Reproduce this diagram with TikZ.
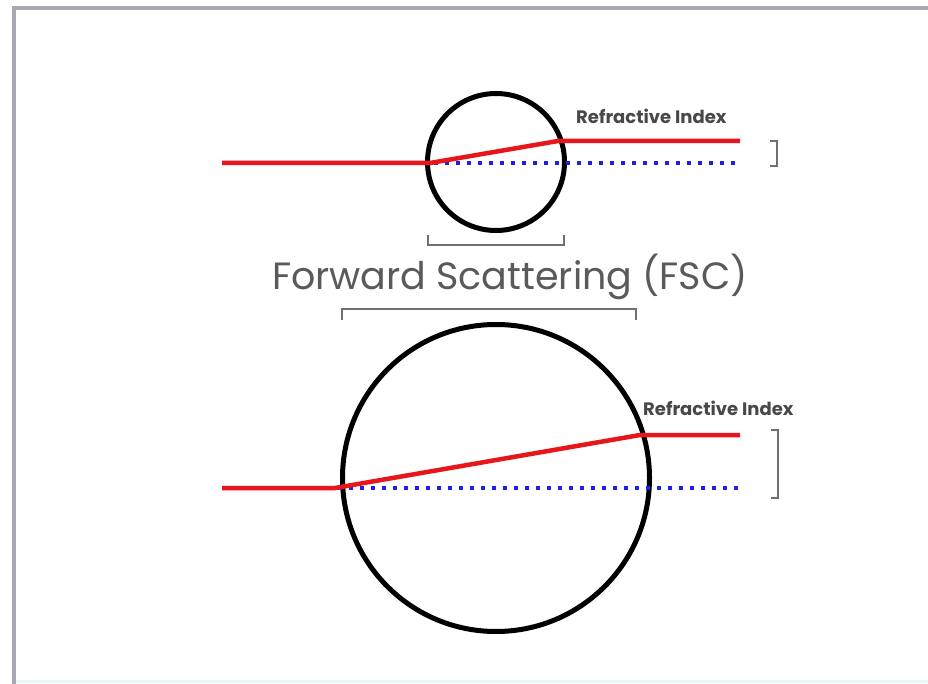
\documentclass[tikz,border=0pt]{standalone}
\usepackage{fontspec}
\setmainfont{Poppins}
\definecolor{framegray}{HTML}{A8A8B0}
\definecolor{txtgray}{HTML}{5A5A5A}
\definecolor{bracketgray}{HTML}{707070}
\definecolor{rayred}{HTML}{E8161B}
\definecolor{dotblue}{HTML}{2020E0}
\definecolor{bluish}{HTML}{E6F6FA}
\begin{document}
\begin{tikzpicture}[x=1pt,y=-1pt,
  cell/.style={circle,draw=black,line width=5,minimum size=#1,inner sep=0},
  ray/.style={draw=rayred,line width=4.5},
  dotline/.style={draw=dotblue,line width=4,dash pattern=on 4 off 7},
  brack/.style={draw=bracketgray,line width=2.2},
  lbl/.style={font=\fontsize{18}{20}\selectfont\bfseries,text=txtgray!80!black,inner sep=0},
  title/.style={font=\fontsize{38}{42}\selectfont,text=txtgray,inner sep=0}]
\useasboundingbox (0,0) rectangle (928,684);
\fill[white] (0,0) rectangle (928,684);
% frame
\draw[framegray,line width=4] (14,684) -- (14,8) -- (928,8);
\draw[bluish,line width=3] (16,681) -- (928,681);
% top cell
\node[cell=137] (c1) at (496,162) {};
\coordinate (r1a) at (222,163);
\coordinate (r1b) at (430,163);
\coordinate (r1c) at (558,141);
\coordinate (r1d) at (740,141);
\coordinate (b1a) at (434,163);
\coordinate (b1b) at (740,163);
\draw[dotline] (b1a) -- (b1b);
\draw[ray,line join=round] (r1a) -- (r1b) -- (r1c) -- (r1d);
\node[lbl,anchor=west] (l1) at (576,116) {Refractive Index};
\draw[brack] (770,141) -- (777,141) -- (777,166) -- (770,166);
\draw[brack] (428,235) -- (428,245) -- (564,245) -- (564,235);
% title
\node[title] (t) at (510,277) {Forward Scattering (FSC)};
% bottom cell
\draw[brack] (342,320) -- (342,309) -- (636,309) -- (636,320);
\node[cell=307] (c2) at (496,478) {};
\coordinate (r2a) at (222,488);
\coordinate (r2b) at (335,488);
\coordinate (r2c) at (640,435);
\coordinate (r2d) at (740,435);
\coordinate (b2a) at (338,488);
\coordinate (b2b) at (740,488);
\draw[dotline] (b2a) -- (b2b);
\draw[ray,line join=round] (r2a) -- (r2b) -- (r2c) -- (r2d);
\node[lbl,anchor=west] (l2) at (643,408) {Refractive Index};
\draw[brack] (771,430) -- (778,430) -- (778,498) -- (771,498);
\end{tikzpicture}
\end{document}
